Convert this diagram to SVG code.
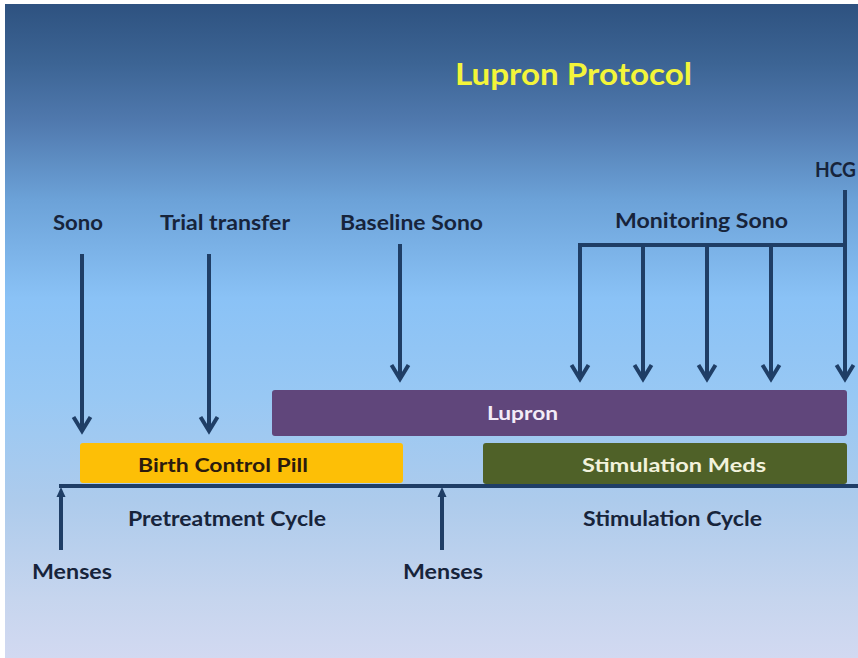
<svg xmlns="http://www.w3.org/2000/svg" width="858" height="658" viewBox="0 0 858 658">
  <defs>
    <linearGradient id="bg" x1="0" y1="0" x2="0" y2="1">
      <stop offset="0" stop-color="#2e5280"/>
      <stop offset="0.09" stop-color="#3c6494"/>
      <stop offset="0.18" stop-color="#5079ae"/>
      <stop offset="0.3" stop-color="#6ca2d8"/>
      <stop offset="0.45" stop-color="#8ac2f6"/>
      <stop offset="0.6" stop-color="#98c8f4"/>
      <stop offset="0.76" stop-color="#adcbec"/>
      <stop offset="0.91" stop-color="#c6d5ee"/>
      <stop offset="1" stop-color="#d2d9f1"/>
    </linearGradient>
    <marker id="vhead" markerUnits="userSpaceOnUse" markerWidth="24" markerHeight="24" refX="18" refY="12" orient="auto" viewBox="0 0 24 24">
      <path d="M4 3.5 L18 12 L4 20.5" fill="none" stroke="#1f3e66" stroke-width="4" stroke-linejoin="miter"/>
    </marker>
  </defs>
  <style>
    text { font-family: Lato, "Open Sans", "Liberation Sans", sans-serif; font-weight: bold; }
    .lbl { font-size: 20px; fill: #17243b; }
    .bar-l { font-size: 19px; }
    .ln { stroke: #1f3e66; stroke-width: 4; fill: none; }
  </style>
  <rect x="0" y="0" width="858" height="658" fill="#ffffff"/>
  <rect x="5" y="4" width="853" height="654" fill="url(#bg)"/>

  <g id="title">
    <text x="455" y="85" font-size="30" fill="#f3f53a" textLength="237" lengthAdjust="spacingAndGlyphs">Lupron Protocol</text>
  </g>

  <g id="connectors">
    <line class="ln" x1="82" y1="254" x2="82" y2="431" marker-end="url(#vhead)"/>
    <line class="ln" x1="209" y1="254" x2="209" y2="431" marker-end="url(#vhead)"/>
    <line class="ln" x1="400" y1="244" x2="400" y2="379" marker-end="url(#vhead)"/>
    <line class="ln" x1="578" y1="245" x2="847" y2="245"/>
    <line class="ln" x1="580" y1="245" x2="580" y2="379" marker-end="url(#vhead)"/>
    <line class="ln" x1="643" y1="245" x2="643" y2="379" marker-end="url(#vhead)"/>
    <line class="ln" x1="707" y1="245" x2="707" y2="379" marker-end="url(#vhead)"/>
    <line class="ln" x1="771" y1="245" x2="771" y2="379" marker-end="url(#vhead)"/>
    <line class="ln" x1="845" y1="190" x2="845" y2="379" marker-end="url(#vhead)"/>
    <line class="ln" x1="61" y1="550" x2="61" y2="494"/>
    <polygon points="61,487 56.5,497 65.5,497" fill="#1f3e66"/>
    <line class="ln" x1="442" y1="550" x2="442" y2="494"/>
    <polygon points="442,487 437.5,497 446.5,497" fill="#1f3e66"/>
  </g>

  <g id="timeline">
    <line x1="59" y1="486" x2="858" y2="486" stroke="#1f3e66" stroke-width="4"/>
  </g>

  <g id="sono"><text class="lbl" x="53" y="230" textLength="50" lengthAdjust="spacingAndGlyphs">Sono</text></g>
  <g id="trial-transfer"><text class="lbl" x="160" y="230" textLength="130" lengthAdjust="spacingAndGlyphs">Trial transfer</text></g>
  <g id="baseline-sono"><text class="lbl" x="340" y="230" textLength="143" lengthAdjust="spacingAndGlyphs">Baseline Sono</text></g>
  <g id="monitoring-sono"><text class="lbl" x="615" y="228" textLength="173" lengthAdjust="spacingAndGlyphs">Monitoring Sono</text></g>
  <g id="hcg"><text class="lbl" x="815" y="177" textLength="41" lengthAdjust="spacingAndGlyphs">HCG</text></g>

  <g id="lupron">
    <rect x="272" y="390" width="575" height="46" rx="3" fill="#60467b"/>
    <text class="bar-l" x="487" y="420" fill="#f3ecf7" textLength="71" lengthAdjust="spacingAndGlyphs">Lupron</text>
  </g>
  <g id="birth-control-pill">
    <rect x="80" y="443" width="323" height="40" rx="3" fill="#fdbf06"/>
    <text class="bar-l" x="138" y="472" fill="#2b1b0e" textLength="170" lengthAdjust="spacingAndGlyphs">Birth Control Pill</text>
  </g>
  <g id="stimulation-meds">
    <rect x="483" y="443" width="364" height="41" rx="3" fill="#4f6128"/>
    <text class="bar-l" x="582" y="472" fill="#f2f2dc" textLength="184" lengthAdjust="spacingAndGlyphs">Stimulation Meds</text>
  </g>

  <g id="pretreatment-cycle"><text class="lbl" x="128" y="526" textLength="198" lengthAdjust="spacingAndGlyphs">Pretreatment Cycle</text></g>
  <g id="stimulation-cycle"><text class="lbl" x="583" y="526" textLength="179" lengthAdjust="spacingAndGlyphs">Stimulation Cycle</text></g>
  <g id="menses-1"><text class="lbl" x="32" y="579" textLength="80" lengthAdjust="spacingAndGlyphs">Menses</text></g>
  <g id="menses-2"><text class="lbl" x="403" y="579" textLength="80" lengthAdjust="spacingAndGlyphs">Menses</text></g>
</svg>
